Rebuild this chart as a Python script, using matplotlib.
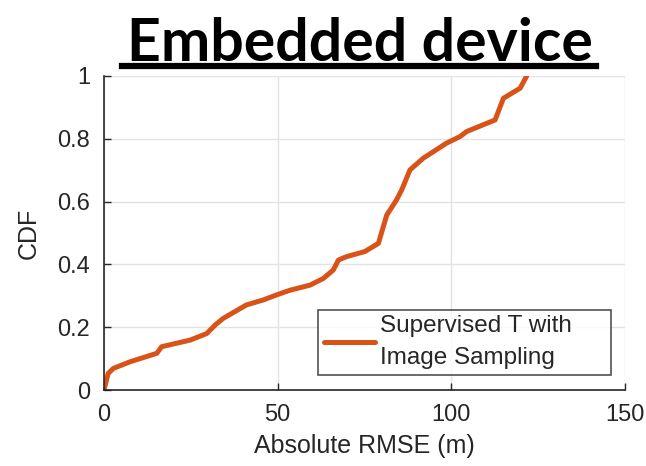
import numpy as np
import matplotlib.pyplot as plt

# CDF curve
rmse = [0, 1.2, 2.7, 7.5, 15.2, 16.6, 24.8, 29.6, 32.0, 34.3, 41.0, 45.9, 49.7,
        53.6, 59.3, 63.1, 66.0, 67.5, 69.9, 75.1, 79.0, 81.4, 84.2, 85.7, 88.1,
        91.9, 98.6, 102.5, 104.4, 112.6, 115.0, 119.8, 121.7]
cdf = [0, 0.053, 0.069, 0.090, 0.117, 0.138, 0.159, 0.180, 0.207, 0.228, 0.271,
       0.287, 0.303, 0.318, 0.334, 0.355, 0.382, 0.414, 0.425, 0.441, 0.467,
       0.557, 0.605, 0.637, 0.701, 0.738, 0.786, 0.807, 0.823, 0.860, 0.929,
       0.961, 1.0]
xticks = [0, 50, 100, 150]
yticks = [0, 0.2, 0.4, 0.6, 0.8, 1]
ytick_labels = ['0', '0.2', '0.4', '0.6', '0.8', '1']

plt.rcParams['font.family'] = ['Liberation Sans', 'DejaVu Sans']
txt = '#262626'

fig = plt.figure(figsize=(6.46, 4.66), dpi=100)
ax = fig.add_axes([0.161, 0.163, 0.8065, 0.674])

ax.plot(rmse, cdf, color='#D95319', lw=3.6, label='Supervised T with\nImage Sampling',
        solid_capstyle='round')

ax.set_xlim(0, 150)
ax.set_ylim(0, 1)
ax.set_xticks(xticks)
ax.set_yticks(yticks)
ax.set_yticklabels(ytick_labels)
ax.grid(True, color='#e3e3e3', lw=1)
ax.set_axisbelow(True)
for s in ['top', 'right']:
    ax.spines[s].set_visible(False)
for s in ['left', 'bottom']:
    ax.spines[s].set_color(txt)
    ax.spines[s].set_linewidth(1.2)
ax.tick_params(direction='in', length=5, width=1, colors=txt, labelsize=17)
ax.tick_params(axis='y', pad=10)
ax.tick_params(axis='x', pad=10)

ax.set_xlabel('Absolute RMSE (m)', fontsize=18, color=txt, labelpad=6)
ax.set_ylabel('CDF', fontsize=18, color=txt, labelpad=12)

# legend box stretched like MATLAB's, text left-aligned inside it
leg = ax.legend(loc='lower left', bbox_to_anchor=(0.411, 0.048, 0.563, 0.22),
                mode='expand', fontsize=17.5, frameon=True, fancybox=False,
                handlelength=2.1, borderpad=0.23, handletextpad=0.2,
                borderaxespad=0)
leg.get_frame().set_edgecolor(txt)
leg.get_frame().set_linewidth(1.2)
for t in leg.get_texts():
    t.set_color(txt)
    t.set_linespacing(1.6)

title = fig.text(0.557, 0.869, 'Embedded device', fontsize=42.5, fontweight='bold',
                 family=['Lato', 'DejaVu Sans'], ha='center', va='baseline')
fig.canvas.draw()
bb = title.get_window_extent().transformed(fig.transFigure.inverted())
fig.add_artist(plt.Line2D([bb.x0 - 0.008, bb.x1 + 0.005], [0.859, 0.859],
                          transform=fig.transFigure, color='black', lw=4.5))

fig.savefig('out.png', dpi=100)
